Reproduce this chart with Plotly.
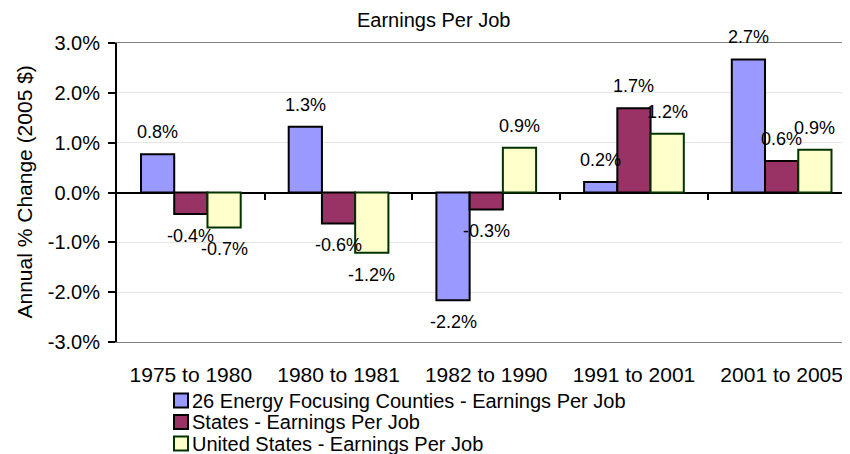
import plotly.graph_objects as go

categories = ["1975 to 1980", "1980 to 1981", "1982 to 1990", "1991 to 2001", "2001 to 2005"]
series_names = [
    "26 Energy Focusing Counties - Earnings Per Job",
    "States - Earnings Per Job",
    "United States - Earnings Per Job",
]
energy_counties = [0.77, 1.32, -2.16, 0.21, 2.67]
states = [-0.43, -0.62, -0.34, 1.69, 0.63]
united_states = [-0.70, -1.21, 0.90, 1.18, 0.86]
ytick_values = [-3, -2, -1, 0, 1, 2, 3]
ytick_labels = ["-3.0%", "-2.0%", "-1.0%", "0.0%", "1.0%", "2.0%", "3.0%"]
chart_title = "Earnings Per Job"
y_title = "Annual % Change (2005 $)"

series_values = [energy_counties, states, united_states]
fills = ["#9999FF", "#993366", "#FFFFCC"]
borders = ["#000000", "#000000", "#003300"]

FONT = "Liberation Sans, Arial, sans-serif"
OFF = 8  # page body margin of the browser
W, H = 850 - OFF, 454 - OFF
# plot area in reference pixels: x 117..852, y 43..342
ML = 117 - OFF
MT = 43 - OFF
MB = 454 - 342
MR = 0
PW, PH = W - ML - MR, H - MT - MB
BARGAP = 0.325
CAT_PX = 147.7


def px_x(x):  # reference pixel -> paper
    return (x - OFF - ML) / PW


def px_y(y):
    return (H - MB - (y - OFF)) / PH


fig = go.Figure()
for name, vals, fc, bc in zip(series_names, series_values, fills, borders):
    fig.add_trace(go.Bar(
        x=categories, y=vals, name=name,
        marker=dict(color=fc, line=dict(color=bc, width=2)),
        showlegend=False,
    ))

boundaries = [i + 0.5 for i in range(len(categories) - 1)]
xrange = [-0.5, -0.5 + PW / CAT_PX]

# invisible helper trace so the boundary-tick axis is drawn
fig.add_trace(go.Scatter(
    x=boundaries, y=[0] * len(boundaries), xaxis="x2", yaxis="y",
    mode="markers", marker=dict(opacity=0), hoverinfo="skip", showlegend=False,
))

# data labels
w = (1 - BARGAP) / len(series_values)
annotations = []
for k, vals in enumerate(series_values):
    for i, v in enumerate(vals):
        annotations.append(dict(
            x=i + (k - 1) * w, y=v, xref="x", yref="y",
            text=f"{v:.1f}%", showarrow=False,
            yshift=22 if v >= 0 else -22, yanchor="middle",
            font=dict(family=FONT, size=18, color="black"),
        ))

# chart title (as annotation so that its box stays inside the figure)
annotations.append(dict(
    x=px_x(433), y=px_y(OFF), xref="paper", yref="paper", text=chart_title,
    showarrow=False, xanchor="center", yanchor="top", borderpad=0,
    font=dict(family=FONT, size=20, color="black"),
))

# y axis title
annotations.append(dict(
    x=px_x(24), y=0.5, xref="paper", yref="paper", text=y_title,
    textangle=-90, showarrow=False, xanchor="center", yanchor="middle",
    font=dict(family=FONT, size=21, color="black"),
))

# custom legend
row_centers = [400.5, 422, 443.5]
shapes = []
for name, fc, bc, yc in zip(series_names, fills, borders, row_centers):
    shapes.append(dict(
        type="rect", xref="paper", yref="paper",
        x0=px_x(174), x1=px_x(188), y0=px_y(yc + 7), y1=px_y(yc - 7),
        fillcolor=fc, line=dict(color=bc, width=2),
    ))
    annotations.append(dict(
        x=px_x(190), y=px_y(yc), xref="paper", yref="paper", text=name,
        showarrow=False, xanchor="left", yanchor="middle",
        font=dict(family=FONT, size=20, color="black"),
    ))

fig.update_layout(
    width=W, height=H,
    margin=dict(l=ML, r=MR, t=MT, b=MB, autoexpand=False),
    paper_bgcolor="white", plot_bgcolor="white",
    barmode="group", bargap=BARGAP, bargroupgap=0,
    font=dict(family=FONT, size=20, color="black"),
    xaxis=dict(
        type="category", range=xrange, showgrid=False, ticks="",
        showline=True, linecolor="#808080", linewidth=1, mirror=True,
        tickfont=dict(family=FONT, size=21, color="black"),
        ticklabelstandoff=14,
    ),
    xaxis2=dict(
        overlaying="x", anchor="free", position=0.5, side="bottom",
        range=xrange, tickvals=boundaries, ticks="outside", ticklen=6, tickwidth=2,
        tickcolor="black", showticklabels=False, showline=False, showgrid=False,
        zeroline=False,
    ),
    yaxis=dict(
        range=[-3, 3], tickvals=ytick_values, ticktext=ytick_labels,
        showgrid=True, gridcolor="#e6e6e6", gridwidth=1,
        zeroline=True, zerolinecolor="black", zerolinewidth=2,
        showline=True, linecolor="black", linewidth=2,
        ticks="outside", ticklen=7, tickwidth=2, tickcolor="black",
        tickfont=dict(family=FONT, size=20, color="black"),
        ticklabelstandoff=4,
    ),
    annotations=annotations,
    shapes=shapes,
)

fig.write_html("out.html")
